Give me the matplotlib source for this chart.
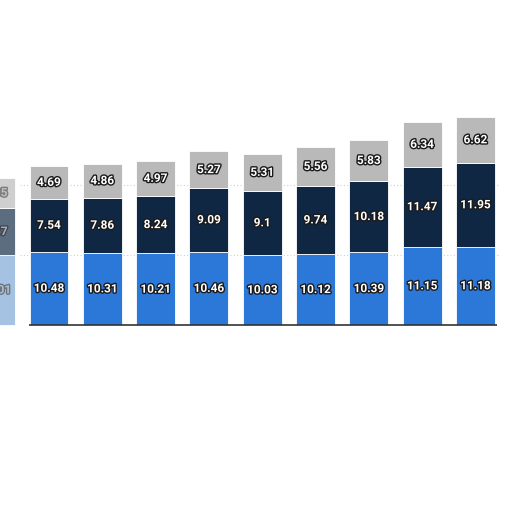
import numpy as np
import matplotlib.pyplot as plt
import matplotlib.patheffects as pe

# values (first bar is cut off at the left edge)
positions = np.arange(10)
blue_vals = [10.01, 10.48, 10.31, 10.21, 10.46, 10.03, 10.12, 10.39, 11.15, 11.18]
navy_vals = [6.67, 7.54, 7.86, 8.24, 9.09, 9.1, 9.74, 10.18, 11.47, 11.95]
grey_vals = [4.35, 4.69, 4.86, 4.97, 5.27, 5.31, 5.56, 5.83, 6.34, 6.62]

blue_c = ['#a6c2e2'] + ['#2b78d9'] * 9
navy_c = ['#5d6d80'] + ['#0f2742'] * 9
grey_c = ['#cfcfcf'] + ['#b9b9b9'] * 9

fig = plt.figure(figsize=(5.12, 5.12), dpi=100)
ax = fig.add_axes([0, 0, 1, 1])
ax.set_xlim(0.081, 9.686)
ax.set_ylim(-26.7, 46.4)
ax.axis('off')

# dotted grid lines
for g in [10, 20]:
    ax.axhline(g, xmin=0.04, xmax=0.975, color='#d0d0d0', lw=0.8, ls=(0, (1, 2)), zorder=0)

w = 0.73
blue = np.array(blue_vals)
navy = np.array(navy_vals)
grey = np.array(grey_vals)
ax.bar(positions, blue, width=w, color=blue_c, edgecolor='white', linewidth=0.6, zorder=2)
ax.bar(positions, navy, width=w, bottom=blue, color=navy_c, edgecolor='white', linewidth=0.6, zorder=2)
ax.bar(positions, grey, width=w, bottom=blue + navy, color=grey_c, edgecolor='white', linewidth=0.6, zorder=2)

ax.hlines(0, 0.62, 9.4, color='#333333', lw=1.2, zorder=3)

outline = [pe.withStroke(linewidth=2, foreground='#1a1a1a')]
for i in positions:
    alpha = 0.45 if i == 0 else 1.0
    segs = [(blue[i] / 2, blue[i]),
            (blue[i] + navy[i] / 2, navy[i]),
            (blue[i] + navy[i] + grey[i] / 2, grey[i])]
    for y, v in segs:
        ax.text(i, y, f'{v:g}', ha='center', va='center', color='white',
                fontsize=8.5, fontweight='bold', family=['Roboto', 'DejaVu Sans'],
                alpha=alpha, path_effects=outline, zorder=4)

fig.savefig('out.png', dpi=100, facecolor='white')
